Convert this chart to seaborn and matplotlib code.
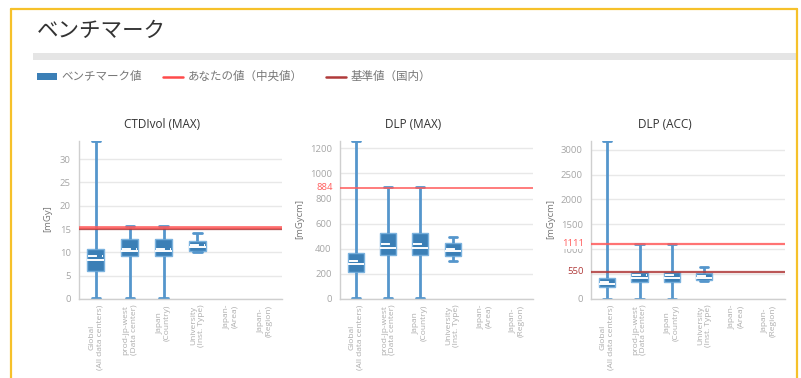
import numpy as np
import pandas as pd
import matplotlib
matplotlib.use("Agg")
import matplotlib.pyplot as plt
from matplotlib.lines import Line2D
from matplotlib.patches import Rectangle
import seaborn as sns

sns.set_style("white")
plt.rcParams["font.family"] = ["Open Sans", "Noto Sans CJK JP", "DejaVu Sans"]

# ---- data ---------------------------------------------------------------
categories = [
    "Global\n(All data centers)",
    "prod-jp-west\n(Data center)",
    "Japan\n(Country)",
    "University\n(Inst. Type)",
    "Japan-\n(Area)",
    "Japan-\n(Region)",
]
groups_with_data = categories[:4]

ctdi_min = [0.2, 0.2, 0.2, 10.0]
ctdi_q1 = [6.1, 9.3, 9.3, 10.4]
ctdi_med = [8.3, 10.3, 10.3, 11.1]
ctdi_mean = [9.2, 10.8, 10.8, 11.6]
ctdi_q3 = [10.7, 12.9, 12.9, 12.5]
ctdi_max = [33.8, 15.6, 15.6, 14.1]
ctdi_yours = 15.4
ctdi_drl = 15.0
ctdi_ticks = [0, 5, 10, 15, 20, 25, 30]

dlp_min = [5, 5, 5, 300]
dlp_q1 = [211, 348, 348, 340]
dlp_med = [277, 409, 409, 382]
dlp_mean = [303, 440, 440, 402]
dlp_q3 = [366, 528, 528, 447]
dlp_max = [1255, 894, 894, 495]
dlp_yours = 884
dlp_ticks = [0, 200, 400, 600, 800, 1000, 1200]

acc_min = [10, 10, 10, 370]
acc_q1 = [240, 347, 347, 380]
acc_med = [300, 415, 415, 420]
acc_mean = [347, 481, 481, 470]
acc_q3 = [415, 535, 535, 515]
acc_max = [3170, 1111, 1111, 640]
acc_yours = 1111
acc_drl = 550
acc_ticks = [0, 500, 1000, 1500, 2000, 2500, 3000]

BOX = "#3b7fb6"
WHISK = "#5596cc"
RED = "#ff5a5a"
DARKRED = "#b03a3a"
TICK_GREY = "#a6a6a6"

W, H = 801, 378
fig = plt.figure(figsize=(W / 100, H / 100), dpi=100)


def fx(px):
    return px / W


def fy(py):
    return 1 - py / H


def five_number_frame(mins, q1s, meds, q3s, maxs):
    rows = []
    for g, a, b, c, d, e in zip(groups_with_data, mins, q1s, meds, q3s, maxs):
        for v in (a, b, c, d, e):
            rows.append({"group": g, "value": v})
    return pd.DataFrame(rows)


def draw_panel(rect, title, title_x, ylabel, ylabel_x, stats, ymax, yticks,
               lines, labels, hidden_ticks=()):
    mins, q1s, meds, means, q3s, maxs = stats
    left, right = rect
    top, bottom = 141, 299
    ax = fig.add_axes([fx(left), fy(bottom), fx(right - left), (bottom - top) / H])
    df = five_number_frame(mins, q1s, meds, q3s, maxs)
    sns.boxplot(
        data=df, x="group", y="value", order=categories, ax=ax,
        whis=np.inf, width=0.5, color=BOX, linecolor=WHISK, linewidth=2,
        saturation=1, fill=True,
        boxprops=dict(facecolor=BOX, edgecolor="#7ab2de", linewidth=1),
        medianprops=dict(color="white", linewidth=1.4),
        whiskerprops=dict(color=WHISK, linewidth=2),
        capprops=dict(color=WHISK, linewidth=2),
    )
    # mean markers as dashed white lines across each box
    pos = np.arange(len(means))
    ax.hlines(means, pos - 0.22, pos + 0.22, colors="white", linewidth=1.4,
              linestyles=(0, (4.6, 2.6)), zorder=5)

    for val, col, lw in lines:
        ax.axhline(val, color=col, linewidth=lw, alpha=0.85, zorder=6)

    ax.set_xlim(-0.5, len(categories) - 0.5)
    ax.set_ylim(0, ymax)
    ax.set_yticks(yticks)
    ax.set_yticklabels(["" if t in hidden_ticks else str(t) for t in yticks])
    ax.set_xticks(range(len(categories)))
    ax.set_xticklabels(categories, rotation=90, fontsize=6, color="#adadad",
                       ha="center", va="top", multialignment="center",
                       linespacing=1.15)
    ax.set_xticks(np.arange(-0.5, len(categories), 1.0), minor=True)
    ax.tick_params(axis="x", which="major", length=0, pad=4)
    ax.tick_params(axis="x", which="minor", length=4, width=0.8, color="#c8c8c8")
    ax.tick_params(axis="y", length=0, pad=6, labelsize=6.8, labelcolor=TICK_GREY)
    ax.set_xlabel("")
    ax.set_ylabel("")
    ax.yaxis.grid(True, color="#e8e8e8", linewidth=1)
    ax.set_axisbelow(True)
    for side in ("top", "right"):
        ax.spines[side].set_visible(False)
    for side in ("left", "bottom"):
        ax.spines[side].set_color("#cfcfcf")
        ax.spines[side].set_linewidth(1)

    for val, col in labels:
        ax.text(-0.035, val, str(val), transform=ax.get_yaxis_transform(),
                ha="right", va="center", fontsize=6.8, color=col, zorder=7,
                bbox=dict(facecolor="white", edgecolor="none", pad=0.6))

    fig.text(fx(title_x), fy(125), title, ha="center", va="center",
             fontsize=8.5, color="#333333")
    fig.text(fx(ylabel_x), fy(219), ylabel, ha="center", va="center",
             rotation=90, fontsize=6.8, color="#777777")
    return ax


draw_panel((79, 282), "CTDIvol (MAX)", 162, "[mGy]", 47.5,
           (ctdi_min, ctdi_q1, ctdi_med, ctdi_mean, ctdi_q3, ctdi_max),
           33.9, ctdi_ticks,
           [(ctdi_drl, DARKRED, 1.6), (ctdi_yours, RED, 2.0)], [])

draw_panel((340, 533), "DLP (MAX)", 413, "[mGycm]", 300,
           (dlp_min, dlp_q1, dlp_med, dlp_mean, dlp_q3, dlp_max),
           1258, dlp_ticks,
           [(dlp_yours, RED, 1.3)], [(dlp_yours, RED)])

# the 550 reference label sits where the 500 tick label would be
draw_panel((591, 785), "DLP (ACC)", 664.5, "[mGycm]", 551,
           (acc_min, acc_q1, acc_med, acc_mean, acc_q3, acc_max),
           3175, acc_ticks,
           [(acc_yours, RED, 1.6), (acc_drl, DARKRED, 1.6)],
           [(acc_yours, RED), (acc_drl, DARKRED)], hidden_ticks=(500,))

# ---- page furniture: frame, heading, divider, legend ---------------------
GOLD = "#f6c12a"
fig.add_artist(Line2D([fx(11), fx(11)], [fy(9), 0], color=GOLD, linewidth=1.6))
fig.add_artist(Line2D([fx(11), fx(797)], [fy(9), fy(9)], color=GOLD, linewidth=1.6))
fig.add_artist(Line2D([fx(797), fx(797)], [fy(9), 0], color=GOLD, linewidth=1.6))

fig.text(fx(37), fy(31), "ベンチマーク", ha="left", va="center",
         fontsize=15.5, color="#333333")
fig.add_artist(Rectangle((fx(33), fy(60)), fx(796 - 33), 6.5 / H,
                         facecolor="#e5e5e5", edgecolor="none"))

fig.add_artist(Rectangle((fx(37), fy(80)), fx(20), 7 / H,
                         facecolor=BOX, edgecolor="none"))
fig.text(fx(61), fy(76.5), "ベンチマーク値", ha="left", va="center",
         fontsize=8.3, color="#777777")
fig.add_artist(Line2D([fx(163), fx(183)], [fy(76.5), fy(76.5)], color="#ff4a4a",
                      linewidth=1.8))
fig.text(fx(188), fy(76.5), "あなたの値（中央値）", ha="left", va="center",
         fontsize=8.3, color="#777777")
fig.add_artist(Line2D([fx(326), fx(346)], [fy(76.5), fy(76.5)], color=DARKRED,
                      linewidth=1.8))
fig.text(fx(351), fy(76.5), "基準値（国内）", ha="left", va="center",
         fontsize=8.3, color="#777777")

fig.savefig("out.png", dpi=100, facecolor="white")
